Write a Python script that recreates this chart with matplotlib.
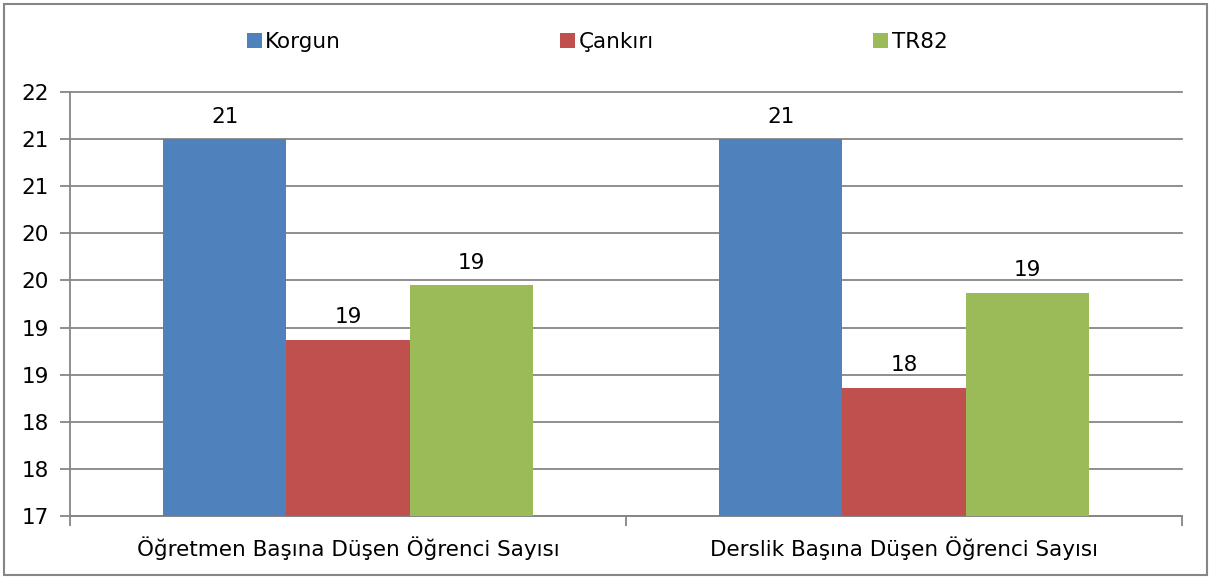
#!/usr/bin/env python3
"""Korgun / Çankırı / TR82 öğrenci sayısı karşılaştırma grafiği"""

import math
import numpy as np
import matplotlib.pyplot as plt
from matplotlib.patches import Rectangle
from matplotlib.ticker import FuncFormatter

# veriler
categories = ['Öğretmen Başına Düşen Öğrenci Sayısı', 'Derslik Başına Düşen Öğrenci Sayısı']
series_names = ['Korgun', 'Çankırı', 'TR82']
korgun = [21.0, 21.0]
cankiri = [18.87, 18.36]
tr82 = [19.45, 19.37]

colors = ['#4F81BD', '#C0504D', '#9BBB59']
grid_color = '#868686'
fs = 15.5

plt.rcParams['font.family'] = ['DejaVu Sans']


def excel_round(v, pos=None):
    # Excel yukarı yuvarlar (17.5 -> 18, 18.5 -> 19)
    return str(int(math.floor(v + 0.5)))


fig = plt.figure(figsize=(12.11, 5.79), dpi=100)
ax = fig.add_axes([70 / 1211, 63 / 579, 1112 / 1211, 424 / 579])

x = np.arange(len(categories))
width = 0.2214
all_series = [korgun, cankiri, tr82]
for i, (name, vals) in enumerate(zip(series_names, all_series)):
    pos = x + (i - 1) * width
    bars = ax.bar(pos, np.array(vals) - 17, width, bottom=17, color=colors[i],
                  label=name, zorder=3)
    for b, v in zip(bars, vals):
        ax.annotate(excel_round(v), (b.get_x() + b.get_width() / 2, v),
                    xytext=(0, 9), textcoords='offset points',
                    ha='center', va='bottom', fontsize=fs)

ax.set_xlim(-0.5, 1.5)
ax.set_ylim(17, 21.5)
ax.set_yticks(np.arange(17, 21.51, 0.5))
ax.yaxis.set_major_formatter(FuncFormatter(excel_round))
ax.grid(axis='y', color=grid_color, linewidth=1.3, zorder=0)
for line in ax.get_ygridlines():
    line.set_clip_on(False)

ax.set_xticks(x)
ax.set_xticklabels(categories)
ax.set_xticks([-0.5, 0.5, 1.5], minor=True)
ax.tick_params(axis='x', which='major', length=0, pad=15, labelsize=fs)
ax.tick_params(axis='x', which='minor', length=7, color=grid_color, width=1.3)
ax.tick_params(axis='y', length=7, color=grid_color, width=1.3, pad=8, labelsize=fs)

for side in ['top', 'right']:
    ax.spines[side].set_visible(False)
for side in ['left', 'bottom']:
    ax.spines[side].set_color(grid_color)
    ax.spines[side].set_linewidth(1.3)

fig.legend(loc='center', bbox_to_anchor=(597 / 1211, 1 - 42 / 579), ncol=3,
           frameon=False, fontsize=fs, handlelength=0.7, handleheight=0.7,
           handletextpad=0.15, columnspacing=10.2)

# dış çerçeve
fig.patches.append(Rectangle((4 / 1211, 4 / 579), 1203 / 1211, 571 / 579,
                             transform=fig.transFigure, fill=False,
                             edgecolor=grid_color, linewidth=1.5))

plt.savefig('out.png', dpi=100)
